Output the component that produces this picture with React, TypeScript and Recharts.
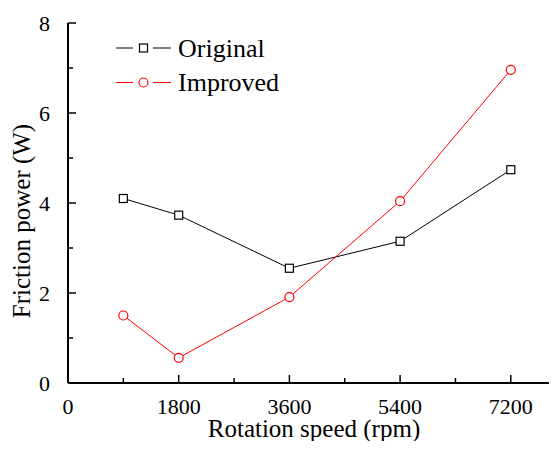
import { Label, Line, LineChart, XAxis, YAxis } from "recharts";

const speeds = [900, 1800, 3600, 5400, 7200];
const original = [4.1, 3.73, 2.55, 3.15, 4.74];
const improved = [1.5, 0.56, 1.91, 4.04, 6.96];
const xMajor = [0, 1800, 3600, 5400, 7200];
const xMinor = [900, 2700, 4500, 6300];
const yMajor = [0, 2, 4, 6, 8];
const yMinor = [1, 3, 5, 7];

const data = speeds.map((s, i) => ({ speed: s, original: original[i], improved: improved[i] }));

const FONT = "Liberation Serif, Times New Roman, serif";
const XMARGIN = 24;
const YMARGIN = 18;

function SquareDot({ cx, cy }: any) {
  return <rect x={cx - 4} y={cy - 4} width={8} height={8} fill="#fff" stroke="#000" strokeWidth={1.2} />;
}

function CircleDot({ cx, cy }: any) {
  return <circle cx={cx} cy={cy} r={4.5} fill="#fff" stroke="#ff0000" strokeWidth={1.2} />;
}

// bottom tick: inward tick line + label, minor ticks shorter and unlabeled
function XTick({ x, y, payload }: any) {
  const axisY = y - XMARGIN;
  const major = xMajor.includes(payload.value);
  return (
    <g>
      <line x1={x} x2={x} y1={axisY} y2={axisY - (major ? 8 : 5)} stroke="#000" strokeWidth={1.5} />
      {major && (
        <text x={x} y={y + 7} textAnchor="middle" fontSize={22} fill="#000" fontFamily={FONT}>
          {payload.value}
        </text>
      )}
    </g>
  );
}

function YTick({ x, y, payload }: any) {
  const axisX = x + YMARGIN;
  const major = yMajor.includes(payload.value);
  return (
    <g>
      <line x1={axisX} x2={axisX + (major ? 8 : 5)} y1={y} y2={y} stroke="#000" strokeWidth={1.5} />
      {major && (
        <text x={x} y={y + 8} textAnchor="end" fontSize={22} fill="#000" fontFamily={FONT}>
          {payload.value}
        </text>
      )}
    </g>
  );
}

function LegendBox() {
  const rows = [
    { name: "Original", color: "#000", marker: "square" },
    { name: "Improved", color: "#ff0000", marker: "circle" },
  ];
  return (
    <svg width={220} height={80} style={{ position: "absolute", left: 110, top: 30 }}>
      {rows.map((r, i) => {
        const y = 18 + i * 34.5;
        return (
          <g key={r.name}>
            <line x1={6} x2={23} y1={y} y2={y} stroke={r.color} strokeWidth={1} />
            <line x1={43} x2={61} y1={y} y2={y} stroke={r.color} strokeWidth={1} />
            {r.marker === "square" ? (
              <rect x={29.5} y={y - 4} width={8} height={8} fill="#fff" stroke={r.color} strokeWidth={1.2} />
            ) : (
              <circle cx={33.5} cy={y} r={4.5} fill="#fff" stroke={r.color} strokeWidth={1.2} />
            )}
            <text x={68} y={y + 8.5} fontSize={26} fill="#000" fontFamily={FONT}>
              {r.name}
            </text>
          </g>
        );
      })}
    </svg>
  );
}

export default function App() {
  return (
    <div style={{ position: "relative", margin: -8, width: 557, height: 449, overflow: "hidden", background: "#fff" }}>
      <LineChart width={580} height={449} data={data} margin={{ top: 23, right: 20, left: 0, bottom: 0 }}>
        <XAxis
          xAxisId="main"
          dataKey="speed"
          type="number"
          domain={[0, 8000]}
          ticks={[...xMajor, ...xMinor]}
          interval={0}
          height={66}
          stroke="#000"
          strokeWidth={2}
          tickLine={false}
          tickSize={0}
          tickMargin={XMARGIN}
          tick={<XTick />}
        >
          <Label
            value="Rotation speed (rpm)"
            position="insideBottom"
            offset={12}
            style={{ fontSize: 25, fill: "#000", fontFamily: FONT }}
          />
        </XAxis>
        <XAxis
          xAxisId="top"
          orientation="top"
          dataKey="speed"
          type="number"
          domain={[0, 8000]}
          ticks={[...xMajor, ...xMinor]}
          interval={0}
          height={0}
          stroke="#000"
          strokeWidth={2}
          tickSize={-6}
          tick={false}
        />
        <YAxis
          yAxisId="main"
          type="number"
          domain={[0, 8]}
          ticks={[...yMajor, ...yMinor]}
          interval={0}
          width={68}
          stroke="#000"
          strokeWidth={2}
          tickLine={false}
          tickSize={0}
          tickMargin={YMARGIN}
          tick={<YTick />}
        >
          <Label
            value="Friction power (W)"
            angle={-90}
            position="insideLeft"
            dx={16}
            dy={18}
            style={{ fontSize: 25, fill: "#000", fontFamily: FONT, textAnchor: "middle" }}
          />
        </YAxis>
        <Line
          xAxisId="main"
          yAxisId="main"
          dataKey="original"
          stroke="#000"
          strokeWidth={1}
          dot={<SquareDot />}
          isAnimationActive={false}
        />
        <Line
          xAxisId="main"
          yAxisId="main"
          dataKey="improved"
          stroke="#ff0000"
          strokeWidth={1}
          dot={<CircleDot />}
          isAnimationActive={false}
        />
      </LineChart>
      <LegendBox />
    </div>
  );
}
